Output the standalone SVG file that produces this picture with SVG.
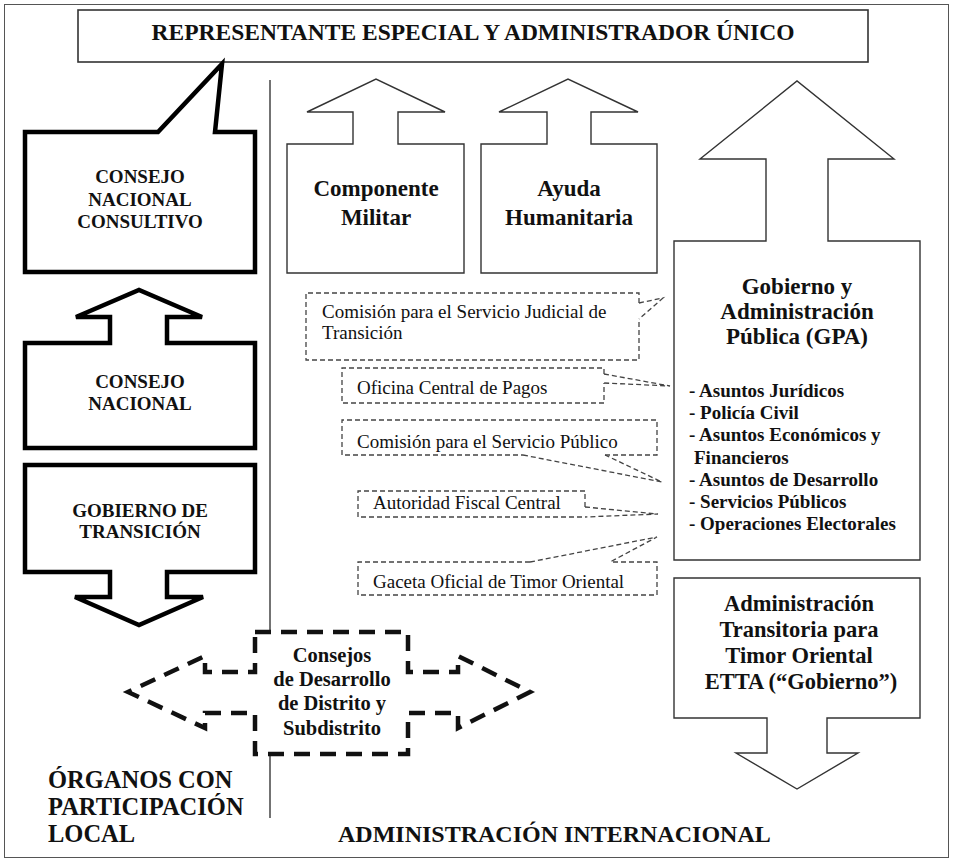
<svg xmlns="http://www.w3.org/2000/svg" width="954" height="863" viewBox="0 0 954 863">
<style>
  text { font-family: "Liberation Serif", "Times New Roman", serif; fill: #111; }
  .b { font-weight: bold; }
  .c { text-anchor: middle; }
  .thick { fill: #fff; stroke: #000; stroke-width: 4.5; stroke-linejoin: miter; }
  .thin { fill: #fff; stroke: #333; stroke-width: 1.4; }
  .dash { fill: none; stroke: #444; stroke-width: 1.3; stroke-dasharray: 5 3; }
  .bigdash { fill: #fff; stroke: #111; stroke-width: 4.5; stroke-dasharray: 16 10; }
  .rule { stroke: #444; stroke-width: 1.5; fill: none; }
  .small { font-size: 19px; }
  .list { font-size: 19px; font-weight: bold; }
</style>
<rect x="0" y="0" width="954" height="863" fill="#fff"/>
<rect x="4.5" y="4.5" width="944" height="853" fill="none" stroke="#555" stroke-width="1"/>

<g id="dividers">
  <line class="rule" x1="270" y1="80" x2="270" y2="632"/>
  <line class="rule" x1="270" y1="754" x2="270" y2="818"/>
</g>

<g id="representante">
  <rect x="78" y="10" width="790" height="52" fill="#fff" stroke="#333" stroke-width="1.6"/>
  <text class="b c" x="473" y="39.5" font-size="23.5">REPRESENTANTE ESPECIAL Y ADMINISTRADOR ÚNICO</text>
</g>

<g id="consejo-nacional-consultivo">
  <path class="thick" d="M25,132 H158 L222,64 L215,132 H255 V272 H25 Z"/>
  <text class="b c" x="140" y="183" font-size="19">CONSEJO</text>
  <text class="b c" x="140" y="206" font-size="19">NACIONAL</text>
  <text class="b c" x="140" y="228" font-size="19">CONSULTIVO</text>
</g>

<g id="consejo-nacional">
  <path class="thick" d="M25,448 V343 H110 V317 H76 L139,290 L202,317 H167 V343 H255 V448 Z"/>
  <text class="b c" x="140" y="388" font-size="19">CONSEJO</text>
  <text class="b c" x="140" y="410" font-size="19">NACIONAL</text>
</g>

<g id="gobierno-transicion">
  <path class="thick" d="M25,465 H255 V572 H167 V597 H203 L139,625 L75,597 H110 V572 H25 Z"/>
  <text class="b c" x="140" y="517" font-size="19">GOBIERNO DE</text>
  <text class="b c" x="140" y="538" font-size="19">TRANSICIÓN</text>
</g>

<g id="componente-militar">
  <path class="thin" d="M287,144 H353 V112 H307 L376,79 L445,112 H398 V144 H464 V273 H287 Z"/>
  <text class="b c" x="376" y="196" font-size="23">Componente</text>
  <text class="b c" x="376" y="225" font-size="23">Militar</text>
</g>

<g id="ayuda-humanitaria">
  <path class="thin" d="M481,144 H547 V112 H499 L568,79 L638,112 H591 V144 H657 V273 H481 Z"/>
  <text class="b c" x="569" y="196" font-size="23">Ayuda</text>
  <text class="b c" x="569" y="225" font-size="23">Humanitaria</text>
</g>

<g id="gpa">
  <path class="thin" d="M674,241 H766 V159 H700 L797,81 L894,159 H828 V241 H920 V560 H674 Z"/>
  <text class="b c" x="797" y="294" font-size="23">Gobierno y</text>
  <text class="b c" x="797" y="319" font-size="23">Administración</text>
  <text class="b c" x="797" y="344" font-size="23">Pública (GPA)</text>
  <text class="list" x="689" y="397">- Asuntos Jurídicos</text>
  <text class="list" x="689" y="419">- Policía Civil</text>
  <text class="list" x="689" y="441">- Asuntos Económicos y</text>
  <text class="list" x="694" y="464">Financieros</text>
  <text class="list" x="689" y="486">- Asuntos de Desarrollo</text>
  <text class="list" x="689" y="508">- Servicios Públicos</text>
  <text class="list" x="689" y="530">- Operaciones Electorales</text>
</g>

<g id="etta">
  <path class="thin" d="M674,578 H920 V718 H827 V753 H858 L797,789 L736,753 H767 V718 H674 Z"/>
  <text class="b c" x="799" y="611" font-size="22.5">Administración</text>
  <text class="b c" x="799" y="637" font-size="22.5">Transitoria para</text>
  <text class="b c" x="799" y="663" font-size="22.5">Timor Oriental</text>
  <text class="b c" x="801" y="689" font-size="22.5">ETTA (“Gobierno”)</text>
</g>

<g id="comision-judicial">
  <path class="dash" d="M639,303 V293 H306 V360 H639 V319"/>
  <text class="small" x="322" y="318">Comisión para el Servicio Judicial de</text>
  <text class="small" x="322" y="339">Transición</text>
</g>

<g id="oficina-pagos">
  <path class="dash" d="M604,374 V368 H342 V403 H604 V383"/>
  <text class="small" x="357" y="394">Oficina Central de Pagos</text>
</g>

<g id="comision-servicio-publico">
  <path class="dash" d="M605,455 H657 V420 H342 V455 H523"/>
  <text class="small" x="357" y="448">Comisión para el Servicio Público</text>
</g>

<g id="autoridad-fiscal">
  <path class="dash" d="M585,507 V491 H358 V517 H585"/>
  <text class="small" x="373" y="509">Autoridad Fiscal Central</text>
</g>

<g id="gaceta-oficial">
  <path class="dash" d="M530,562 H358 V595 H657 V562 H610"/>
  <text class="small" x="373" y="588">Gaceta Oficial de Timor Oriental</text>
</g>

<g id="consejos-desarrollo">
  <path class="bigdash" d="M255,632 H408 V672 H458 V656 L530,692 L458,728 V713 H408 V754 H255 V713 H205 V728 L128,692 L205,656 V672 H255 Z"/>
  <text class="b c" x="332" y="662" font-size="20.5">Consejos</text>
  <text class="b c" x="332" y="686" font-size="20.5">de Desarrollo</text>
  <text class="b c" x="332" y="710" font-size="20.5">de Distrito y</text>
  <text class="b c" x="332" y="735" font-size="20.5">Subdistrito</text>
</g>

<g id="connectors">
  <polyline class="dash" points="639,303 663,298 639,319"/>
  <polyline class="dash" points="604,374 670,386 604,383"/>
  <polyline class="dash" points="523,455 662,482 605,455"/>
  <polyline class="dash" points="585,507 658,514 585,517"/>
  <polyline class="dash" points="530,562 657,537 610,562"/>
</g>

<g id="labels">
  <text class="b" x="48" y="788" font-size="24.5">ÓRGANOS CON</text>
  <text class="b" x="48" y="815" font-size="24.5">PARTICIPACIÓN</text>
  <text class="b" x="48" y="842" font-size="24.5">LOCAL</text>
  <text class="b" x="338" y="842" font-size="24">ADMINISTRACIÓN INTERNACIONAL</text>
</g>
</svg>
